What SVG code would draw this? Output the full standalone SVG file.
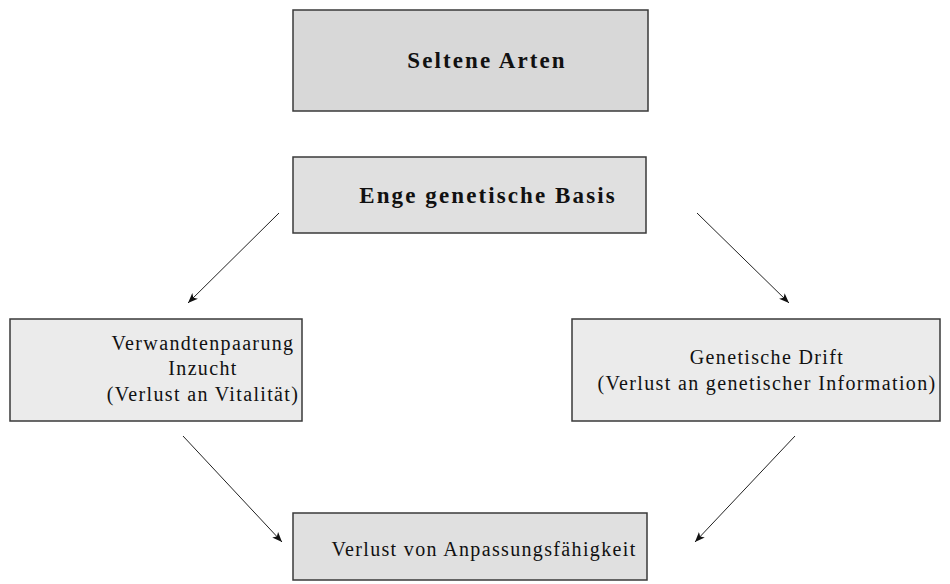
<svg xmlns="http://www.w3.org/2000/svg" width="950" height="584" viewBox="0 0 950 584">
<style>
.box{stroke:#3a3a3a;stroke-width:1.5}
.t{font-family:"Liberation Serif","Times New Roman",serif;fill:#111;text-anchor:middle}
.b{font-weight:bold;font-size:23px;letter-spacing:2.1px}
.n{font-size:20px;letter-spacing:1.35px}
.c{stroke:#222;stroke-width:1;fill:none;marker-end:url(#ah)}
</style>
<defs>
<marker id="ah" viewBox="0 0 10 10" refX="10" refY="5" markerWidth="10" markerHeight="10" markerUnits="userSpaceOnUse" orient="auto">
<path d="M0,1 L10,5 L0,9 L2.5,5 Z" fill="#111"/>
</marker>
</defs>
<rect width="950" height="584" fill="#fff"/>
<g id="n1"><rect class="box" x="293" y="10" width="355" height="101" fill="#d8d8d8"/><text class="t b" x="487" y="68">Seltene Arten</text></g>
<g id="n2"><rect class="box" x="293" y="157" width="353" height="76" fill="#e0e0e0"/><text class="t b" x="488" y="203">Enge genetische Basis</text></g>
<g id="n3"><rect class="box" x="10" y="319" width="292" height="102" fill="#ebebeb"/><text class="t n" x="203" y="350">Verwandtenpaarung</text><text class="t n" x="203" y="375">Inzucht</text><text class="t n" x="203" y="401">(Verlust an Vitalität)</text></g>
<g id="n4"><rect class="box" x="572" y="319" width="368" height="102" fill="#ebebeb"/><text class="t n" x="767" y="364">Genetische Drift</text><text class="t n" x="767" y="390">(Verlust an genetischer Information)</text></g>
<g id="n5"><rect class="box" x="293" y="513" width="354" height="67" fill="#e0e0e0"/><text class="t n" x="484" y="556">Verlust von Anpassungsfähigkeit</text></g>
<g id="connectors">
<line class="c" x1="279" y1="213" x2="188" y2="303"/>
<line class="c" x1="697" y1="213" x2="789" y2="303"/>
<line class="c" x1="183" y1="436" x2="282" y2="542"/>
<line class="c" x1="795" y1="436" x2="695" y2="542"/>
</g>
</svg>
